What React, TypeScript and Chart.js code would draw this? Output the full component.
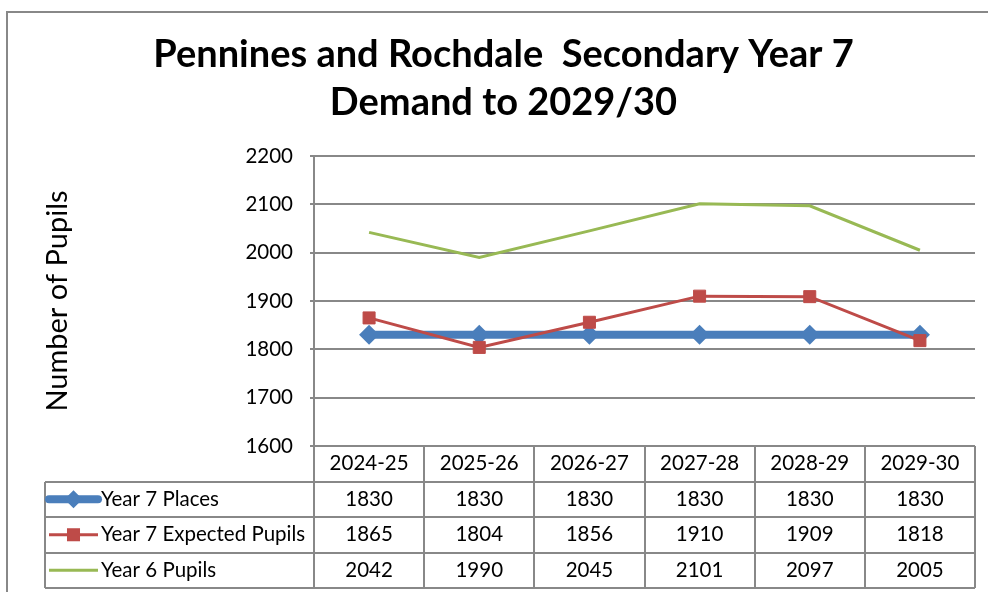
import React, { useEffect, useRef } from 'react';
import { Chart, registerables } from 'chart.js';

Chart.register(...registerables);

// ---- data ----
const CATEGORIES = ['2024-25', '2025-26', '2026-27', '2027-28', '2028-29', '2029-30'];
const YEAR7_PLACES = [1830, 1830, 1830, 1830, 1830, 1830];
const YEAR7_EXPECTED = [1865, 1804, 1856, 1910, 1909, 1818];
const YEAR6_PUPILS = [2042, 1990, 2045, 2101, 2097, 2005];
const SERIES_NAMES = ['Year 7 Places', 'Year 7 Expected Pupils', 'Year 6 Pupils'];
const TITLE_LINES = ['Pennines and Rochdale  Secondary Year 7', 'Demand to 2029/30'];
const Y_TITLE = 'Number of Pupils';
const Y_MIN = 1600;
const Y_MAX = 2200;
const Y_STEP = 100;

// ---- styles ----
const FONT = 'Lato, "Open Sans", sans-serif';
const GRID = '#888888';
const BLUE = '#4A7EBB';
const RED = '#BE4B48';
const GREEN = '#98B954';
const TABLE_ROW_H = 35.5;
const TABLE_LEFT = 45;
const TEXT_SIZE = 20.5;

const framePlugin = {
  id: 'frame',
  beforeDraw(chart: any) {
    const ctx = chart.ctx;
    ctx.save();
    ctx.fillStyle = '#ffffff';
    ctx.fillRect(0, 0, chart.width, chart.height);
    ctx.strokeStyle = GRID;
    ctx.lineWidth = 2;
    ctx.strokeRect(7, 12, chart.width + 40, chart.height + 40);
    ctx.restore();
  },
};

const tablePlugin = {
  id: 'dataTable',
  afterDraw(chart: any) {
    const { ctx, chartArea, scales } = chart;
    const xs = scales.x;
    const labels: string[] = chart.data.labels;
    const datasets: any[] = chart.data.datasets;
    const n = labels.length;
    const colW = (chartArea.right - chartArea.left) / n;
    const top = chartArea.bottom;
    const rows = datasets.length + 1;
    const bottom = top + TABLE_ROW_H * rows;

    ctx.save();
    ctx.strokeStyle = GRID;
    ctx.lineWidth = 2;
    ctx.beginPath();
    for (let r = 1; r <= rows; r++) {
      const y = Math.round(top + r * TABLE_ROW_H);
      ctx.moveTo(TABLE_LEFT, y);
      ctx.lineTo(chartArea.right, y);
    }
    for (let i = 0; i <= n; i++) {
      const xx = Math.round(chartArea.left + i * colW);
      ctx.moveTo(xx, top);
      ctx.lineTo(xx, Math.round(bottom));
    }
    ctx.moveTo(TABLE_LEFT, Math.round(top + TABLE_ROW_H));
    ctx.lineTo(TABLE_LEFT, Math.round(bottom));
    ctx.stroke();

    ctx.fillStyle = '#000000';
    ctx.font = `${TEXT_SIZE}px ${FONT}`;
    ctx.textAlign = 'center';
    ctx.textBaseline = 'middle';
    labels.forEach((l, i) => {
      ctx.fillText(l, xs.getPixelForValue(i), top + TABLE_ROW_H / 2);
    });

    datasets.forEach((ds, r) => {
      const cy = top + TABLE_ROW_H * (r + 1.5);
      ctx.fillStyle = '#000000';
      ctx.textAlign = 'center';
      ds.data.forEach((v: number, i: number) => {
        ctx.fillText(String(v), xs.getPixelForValue(i), cy);
      });
      // legend key
      const kx0 = TABLE_LEFT + 4;
      const kx1 = TABLE_LEFT + 53;
      const kc = (kx0 + kx1) / 2;
      ctx.save();
      ctx.strokeStyle = ds.borderColor;
      ctx.lineWidth = ds.borderWidth;
      ctx.lineCap = ds.borderWidth > 4 ? 'round' : 'butt';
      ctx.beginPath();
      ctx.moveTo(kx0, cy);
      ctx.lineTo(kx1, cy);
      ctx.stroke();
      ctx.fillStyle = ds.pointBackgroundColor || ds.borderColor;
      if (ds.pointRadius > 0) {
        if (ds.pointStyle === 'rectRot') {
          const rr = ds.pointRadius - 1;
          ctx.beginPath();
          ctx.moveTo(kc, cy - rr);
          ctx.lineTo(kc + rr, cy);
          ctx.lineTo(kc, cy + rr);
          ctx.lineTo(kc - rr, cy);
          ctx.closePath();
          ctx.fill();
        } else if (ds.pointStyle === 'rect') {
          const hs = ds.pointRadius * Math.SQRT1_2 + 0.5;
          ctx.fillRect(kc - hs, cy - hs, hs * 2, hs * 2);
        }
      }
      ctx.restore();
      ctx.fillStyle = '#000000';
      ctx.textAlign = 'left';
      ctx.fillText(ds.label, TABLE_LEFT + 56, cy);
    });
    ctx.restore();
  },
};

export default function App() {
  const ref = useRef<HTMLCanvasElement | null>(null);

  useEffect(() => {
    if (!ref.current) return;
    const chart = new Chart(ref.current, {
      type: 'line',
      data: {
        labels: CATEGORIES,
        datasets: [
          {
            label: SERIES_NAMES[0],
            data: YEAR7_PLACES,
            borderColor: BLUE,
            backgroundColor: BLUE,
            borderWidth: 8,
            pointStyle: 'rectRot',
            pointRadius: 10,
            pointBorderWidth: 0,
            pointBackgroundColor: BLUE,
            tension: 0,
            order: 3,
          } as any,
          {
            label: SERIES_NAMES[1],
            data: YEAR7_EXPECTED,
            borderColor: RED,
            backgroundColor: RED,
            borderWidth: 3,
            pointStyle: 'rect',
            pointRadius: 8.5,
            pointBorderWidth: 1,
            pointBorderColor: RED,
            pointBackgroundColor: RED,
            tension: 0,
            order: 2,
          } as any,
          {
            label: SERIES_NAMES[2],
            data: YEAR6_PUPILS,
            borderColor: GREEN,
            backgroundColor: GREEN,
            borderWidth: 3,
            pointRadius: 0,
            tension: 0,
            order: 1,
          } as any,
        ],
      },
      options: {
        responsive: false,
        animation: false,
        devicePixelRatio: 1,
        layout: { padding: { left: 32, right: 13, top: 0, bottom: 146 } },
        plugins: {
          legend: { display: false },
          tooltip: { enabled: false },
          title: {
            display: true,
            text: TITLE_LINES,
            color: '#000000',
            font: { family: FONT, size: 38, weight: 'bold', lineHeight: 1.263 },
            padding: { top: 31, bottom: 29 },
          },
        },
        scales: {
          x: {
            type: 'category',
            display: false,
            offset: true,
          },
          y: {
            min: Y_MIN,
            max: Y_MAX,
            ticks: {
              stepSize: Y_STEP,
              color: '#000000',
              font: { family: FONT, size: TEXT_SIZE },
              padding: 17,
              callback: (v: any) => String(v),
            },
            grid: { color: GRID, lineWidth: 2, tickLength: 4, tickColor: GRID, drawTicks: true },
            border: { color: GRID, width: 2 },
            title: {
              display: true,
              text: Y_TITLE,
              color: '#000000',
              font: { family: FONT, size: 29 },
              padding: { top: 8.6, bottom: 0 },
            },
            afterFit(scale: any) {
              scale.width = 282;
            },
          },
        },
      } as any,
      plugins: [framePlugin, tablePlugin],
    });
    return () => chart.destroy();
  }, []);

  return (
    <div style={{ position: 'absolute', left: 0, top: 0, width: 988, height: 592, overflow: 'hidden' }}>
      <canvas ref={ref} width={988} height={592} style={{ display: 'block' }} />
    </div>
  );
}
